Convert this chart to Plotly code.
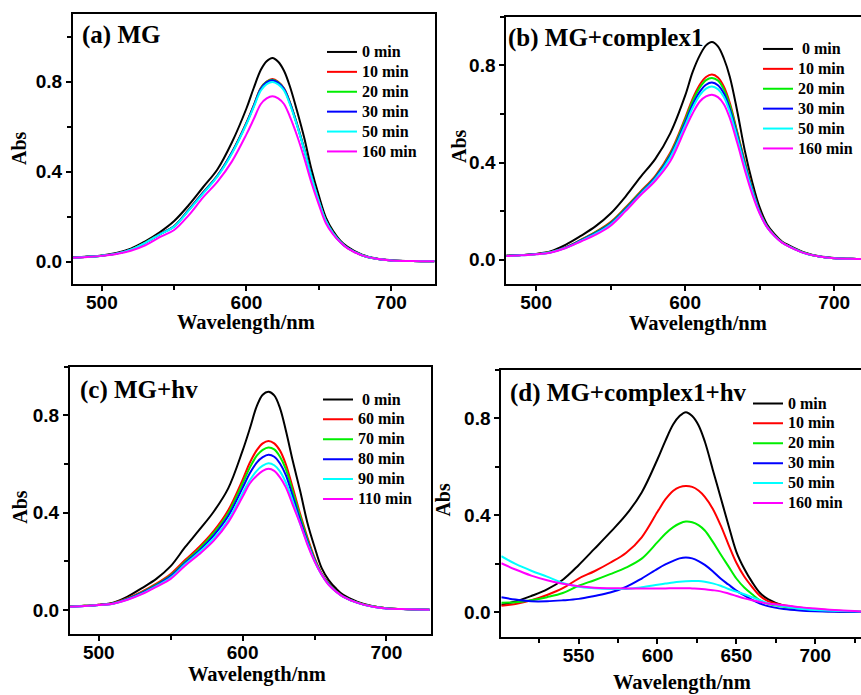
import plotly.graph_objects as go

# ---------------- data ----------------
WL_ABC = [480, 490, 500, 510, 520, 530, 540, 550, 560, 570, 580, 590, 600, 605, 610, 614,
          618, 622, 626, 630, 635, 640, 645, 650, 655, 660, 665, 670, 680, 690, 700, 715, 730]
WL_D = [501, 510, 520, 530, 540, 550, 560, 570, 580, 590, 600, 605, 610, 614, 618, 622,
        626, 630, 635, 640, 645, 650, 655, 660, 665, 670, 680, 690, 700, 715, 729]

LABELS_A = ["0 min", "10 min", "20 min", "30 min", "50 min", "160 min"]
LABELS_B = ["\u00a00 min", "10 min", "20 min", "30 min", "50 min", "160 min"]
LABELS_C = ["\u00a00 min", "60 min", "70 min", "80 min", "90 min", "110 min"]
LABELS_D = ["0 min", "10 min", "20 min", "30 min", "50 min", "160 min"]

# (a) MG
a_0 = [.018, .022, .027, .038, .057, .09, .13, .18, .25, .33, .41, .53, .68, .77, .852, .89,
       .905, .888, .848, .78, .67, .55, .41, .295, .195, .135, .093, .065, .03, .013, .006, .002, .001]
a_10 = [.017, .021, .026, .035, .053, .084, .122, .158, .23, .307, .383, .486, .617, .693, .772, .80,
        .811, .799, .77, .71, .612, .50, .38, .272, .181, .126, .088, .06, .028, .012, .005, .002, .001]
a_20 = [.017, .021, .026, .035, .053, .084, .121, .157, .229, .306, .382, .485, .615, .691, .77, .798,
        .808, .796, .768, .708, .61, .499, .379, .271, .181, .126, .088, .06, .028, .012, .005, .002, .001]
a_30 = [.017, .021, .026, .035, .052, .083, .121, .156, .228, .305, .381, .484, .614, .69, .768, .796,
        .806, .794, .766, .706, .608, .498, .378, .27, .18, .125, .087, .06, .028, .012, .005, .002, .001]
a_50 = [.017, .021, .026, .035, .052, .083, .12, .155, .226, .302, .378, .48, .61, .685, .76, .788,
        .798, .787, .76, .70, .605, .495, .375, .27, .18, .125, .087, .06, .028, .012, .005, .002, .001]
a_160 = [.017, .02, .025, .033, .048, .072, .108, .14, .205, .285, .355, .445, .565, .632, .70, .725,
         .735, .725, .70, .645, .56, .46, .35, .255, .17, .12, .085, .058, .027, .012, .005, .002, .001]

# (b) MG+complex1
b_0 = [.016, .019, .024, .035, .062, .098, .138, .19, .26, .34, .415, .52, .675, .772, .843, .882,
       .896, .878, .828, .752, .61, .45, .32, .215, .145, .105, .075, .058, .03, .014, .007, .003, .001]
b_10 = [.016, .019, .023, .032, .052, .082, .115, .155, .215, .28, .345, .44, .583, .662, .722, .752,
        .762, .75, .712, .645, .525, .405, .295, .20, .137, .10, .072, .055, .028, .013, .006, .003, .001]
b_20 = [.016, .019, .023, .032, .051, .081, .113, .152, .212, .277, .341, .434, .575, .652, .71, .739,
        .748, .737, .70, .635, .52, .40, .292, .198, .136, .099, .072, .054, .028, .013, .006, .003, .001]
b_30 = [.016, .019, .023, .031, .05, .079, .11, .149, .208, .273, .338, .428, .564, .638, .693, .72,
        .729, .718, .684, .62, .51, .393, .288, .196, .135, .098, .071, .054, .027, .013, .006, .003, .001]
b_50 = [.015, .018, .022, .031, .049, .077, .107, .145, .204, .269, .333, .421, .553, .624, .678, .704,
        .713, .702, .67, .607, .50, .385, .282, .193, .134, .098, .071, .054, .027, .013, .006, .003, .001]
b_160 = [.015, .018, .022, .03, .048, .075, .103, .14, .20, .265, .325, .405, .538, .602, .652, .672,
         .679, .669, .64, .582, .48, .37, .27, .19, .133, .097, .07, .053, .027, .013, .006, .003, .001]

# (c) MG+hv
c_0 = [.014, .017, .021, .03, .055, .09, .128, .18, .258, .33, .405, .50, .655, .745, .84, .885,
       .897, .882, .83, .74, .61, .49, .36, .26, .172, .122, .088, .062, .033, .016, .007, .003, .001]
c_60 = [.014, .017, .021, .028, .048, .075, .108, .148, .205, .26, .325, .41, .535, .605, .658, .685,
        .695, .685, .655, .60, .50, .395, .30, .215, .15, .108, .078, .056, .03, .015, .007, .003, .001]
c_70 = [.014, .017, .02, .027, .046, .072, .104, .143, .198, .252, .317, .398, .52, .585, .635, .658,
        .668, .66, .63, .58, .485, .385, .292, .21, .148, .106, .077, .055, .03, .015, .007, .003, .001]
c_80 = [.013, .016, .02, .027, .045, .07, .101, .139, .193, .245, .307, .386, .502, .562, .607, .628,
        .638, .63, .602, .555, .465, .37, .283, .205, .146, .105, .076, .055, .029, .014, .006, .003, .001]
c_90 = [.013, .016, .02, .026, .043, .067, .098, .133, .188, .238, .295, .37, .48, .533, .573, .593,
        .603, .595, .57, .525, .445, .355, .275, .202, .145, .103, .075, .054, .029, .014, .006, .003, .001]
c_110 = [.013, .016, .02, .026, .042, .065, .095, .128, .182, .23, .285, .36, .465, .52, .553, .572,
         .58, .572, .545, .505, .43, .355, .27, .20, .145, .102, .075, .054, .029, .014, .006, .003, .001]

# (d) MG+complex1+hv
d_0 = [.032, .045, .068, .095, .135, .195, .262, .33, .402, .495, .632, .708, .776, .81, .826, .81,
       .772, .705, .59, .475, .36, .25, .18, .125, .08, .055, .028, .016, .008, .004, .002]
d_10 = [.028, .035, .05, .072, .10, .14, .17, .205, .245, .31, .415, .466, .502, .517, .522, .518,
        .503, .477, .428, .36, .28, .205, .148, .105, .068, .047, .03, .02, .013, .007, .003]
d_20 = [.04, .042, .05, .063, .08, .11, .133, .158, .185, .222, .29, .325, .352, .367, .375, .372,
        .36, .338, .292, .24, .19, .14, .103, .075, .05, .036, .024, .016, .011, .006, .003]
d_30 = [.063, .053, .046, .046, .05, .056, .068, .082, .105, .14, .18, .198, .213, .223, .227, .223,
        .212, .196, .17, .14, .115, .09, .07, .052, .037, .026, .014, .008, .005, .003, .002]
d_50 = [.232, .20, .172, .148, .122, .106, .10, .097, .097, .104, .114, .119, .124, .127, .129, .13,
        .13, .127, .12, .11, .097, .086, .075, .063, .05, .038, .025, .015, .01, .006, .004]
d_160 = [.203, .177, .152, .133, .118, .108, .102, .10, .099, .099, .099, .099, .10, .10, .10, .099,
         .098, .096, .092, .087, .078, .068, .058, .05, .043, .037, .03, .022, .016, .009, .004]

COLORS = ["#000000", "#ff0000", "#00ee00", "#0000ff", "#00ffff", "#ff00ff"]

PANELS = [
    # legend suffix, wavelengths, series, labels, panel title
    ("", WL_ABC, [a_0, a_10, a_20, a_30, a_50, a_160], LABELS_A, "(a) MG"),
    ("2", WL_ABC, [b_0, b_10, b_20, b_30, b_50, b_160], LABELS_B, "(b) MG+complex1"),
    ("3", WL_ABC, [c_0, c_60, c_70, c_80, c_90, c_110], LABELS_C, "(c) MG+hv"),
    ("4", WL_D, [d_0, d_10, d_20, d_30, d_50, d_160], LABELS_D, "(d) MG+complex1+hv"),
]

# ---------------- layout geometry (pixels of an 861 x 695 canvas) ----------------
W, H = 861, 695
BOXES = [  # left, right, top, bottom
    (73, 435, 14, 284),
    (506.3, 861, 16.7, 284),
    (70, 431, 366.7, 634.3),
    (501.3, 861, 370, 636.7),
]
XRANGES = [[480, 730.5], [480, 718], [480, 731], [501, 729]]
YRANGES = [[-0.1, 1.1], [-0.1, 1.0], [-0.1, 1.0], [-0.1, 1.0]]
XDTICK = [100, 100, 100, 50]
RIGHT_FRAME = [True, False, True, False]
TITLE_POS = [(80, 35), (506, 38.3), (78, 390), (508, 393.3)]
ABS_POS = [(19, 148), (458.3, 145.7), (20, 506.7), (443.3, 499.3)]
WL_POS = [(246, 323), (698.3, 323.5), (256.7, 674), (681.7, 682)]
LEGEND_POS = [(322, 37), (758, 34), (318, 384.5), (748, 388.5)]

SERIF = "Liberation Serif, Times New Roman, serif"
SANS = "Liberation Sans, Arial, sans-serif"


def px(x):
    return x / W


def py(y):
    return 1 - y / H


fig = go.Figure()
layout = dict(
    width=W, height=H,
    margin=dict(l=0, r=0, t=0, b=0),
    paper_bgcolor="white", plot_bgcolor="white",
    showlegend=True,
)
annotations = []

for i, (key, wl, series, labels, title) in enumerate(PANELS):
    xa, ya = "x" + key, "y" + key
    leg = "legend" + key
    for vals, lab, col in zip(series, labels, COLORS):
        fig.add_trace(go.Scatter(
            x=wl, y=vals, mode="lines",
            name='<span style="font-size:16px">' + lab + "</span>",
            line=dict(color=col, width=2, shape="spline", smoothing=1.0),
            xaxis=xa, yaxis=ya, legend=leg,
        ))
    l, r, t, b = BOXES[i]
    axis_common = dict(
        showgrid=False, zeroline=False, showline=True, linecolor="black", linewidth=2,
        ticks="outside", ticklen=5, tickwidth=2, tickcolor="black",
        tickfont=dict(family=SANS, size=19, color="black", weight="bold"),
    )
    layout["xaxis" + key] = dict(
        axis_common, domain=[px(l), px(r)], range=XRANGES[i], anchor=ya,
        tick0=500, dtick=XDTICK[i], mirror=True, ticklabelstandoff=-5,
        minor=dict(dtick=XDTICK[i] / 2, ticks="outside", ticklen=4, tickwidth=2, tickcolor="black"),
    )
    layout["yaxis" + key] = dict(
        axis_common, domain=[py(b), py(t)], range=YRANGES[i], anchor=xa,
        tick0=0, dtick=0.4, tickformat=".1f", mirror=RIGHT_FRAME[i],
        minor=dict(dtick=0.2, ticks="outside", ticklen=4, tickwidth=2, tickcolor="black"),
    )
    lx, ly = LEGEND_POS[i]
    layout[leg] = dict(
        x=px(lx), y=py(ly), xanchor="left", yanchor="top",
        bgcolor="rgba(0,0,0,0)", borderwidth=0, itemwidth=30, tracegroupgap=0,
        font=dict(family=SERIF, size=13, color="black", weight="bold"),
    )
    tx, ty = TITLE_POS[i]
    annotations.append(dict(
        text=title, x=px(tx), y=py(ty), xref="paper", yref="paper",
        xanchor="left", yanchor="middle", showarrow=False,
        font=dict(family=SERIF, size=25, color="black", weight="bold"),
    ))
    ax_, ay_ = ABS_POS[i]
    annotations.append(dict(
        text="Abs", x=px(ax_), y=py(ay_), xref="paper", yref="paper",
        xanchor="center", yanchor="middle", showarrow=False, textangle=-90,
        font=dict(family=SERIF, size=20, color="black", weight="bold"),
    ))
    wx, wy = WL_POS[i]
    annotations.append(dict(
        text="Wavelength/nm", x=px(wx), y=py(wy), xref="paper", yref="paper",
        xanchor="center", yanchor="middle", showarrow=False,
        font=dict(family=SERIF, size=20.5, color="black", weight="bold"),
    ))

layout["annotations"] = annotations
fig.update_layout(**layout)
fig.write_html("out.html")
